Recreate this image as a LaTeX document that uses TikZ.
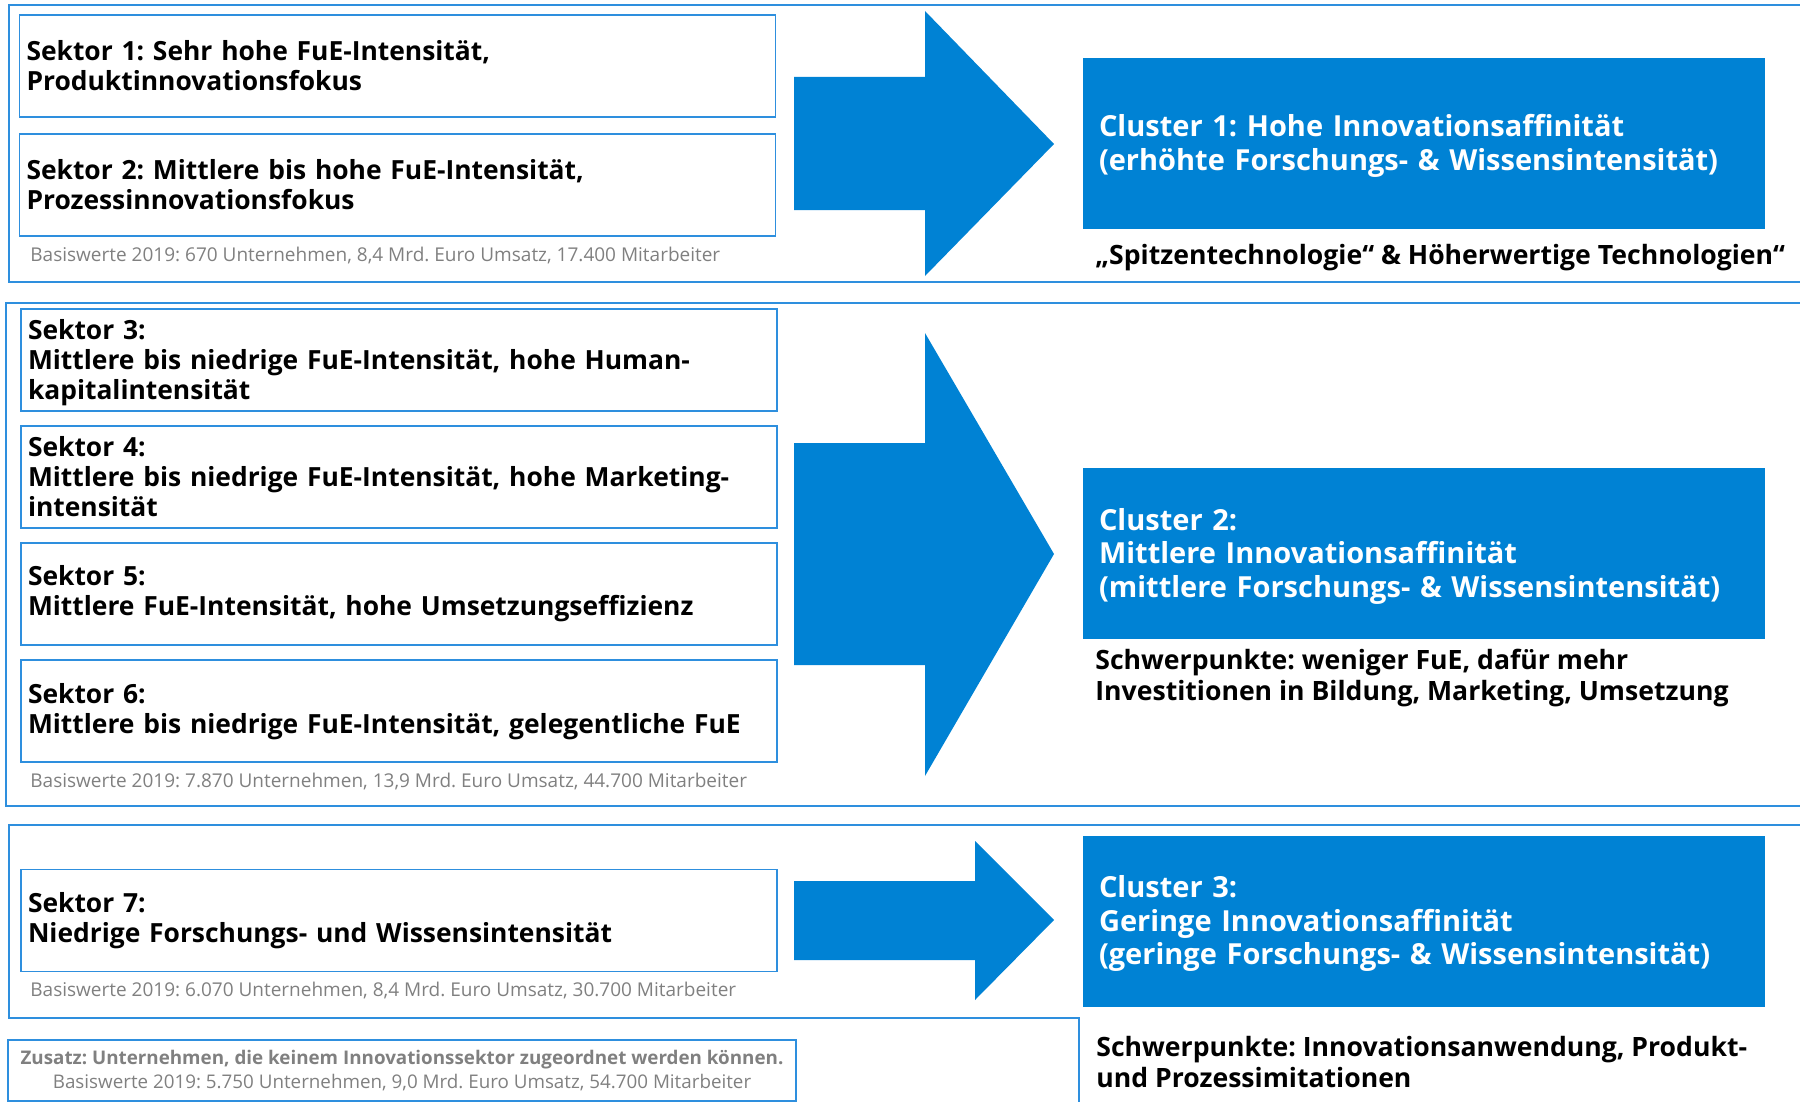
\documentclass[tikz,border=0pt]{standalone}
\usepackage{fontspec}
\setmainfont{Open Sans}
\definecolor{fillblue}{HTML}{0082D4}
\definecolor{frameblue}{HTML}{2E8FDE}
\definecolor{basegray}{HTML}{808080}
\frenchspacing
\begin{document}
\begin{tikzpicture}[x=0.5pt,y=-0.5pt,
  frameline/.style={draw=frameblue,line width=1pt},
  sbox/.style={draw=frameblue,line width=0.8pt,text width=371pt,inner xsep=3.5pt,inner ysep=0pt,
    minimum height=51pt,align=left,font=\bfseries\fontsize{13.2}{15}\selectfont},
  cbox/.style={fill=fillblue,minimum width=341pt,minimum height=85.5pt,inner sep=0pt},
  ctext/.style={text=white,text width=325pt,inner sep=0pt,align=left,
    font=\bfseries\fontsize{14.5}{16.75}\selectfont},
  basis/.style={anchor=west,inner sep=0pt,text=basegray,font=\fontsize{9.5}{10}\selectfont},
  note/.style={anchor=north west,inner sep=0pt,align=left,font=\bfseries\fontsize{13.3}{15.5}\selectfont},
  bigarrow/.style={fill=fillblue,draw=none}]
\useasboundingbox (0,0) rectangle (1800,1102);
% frames
\draw[frameline] (1800,5) -- (9,5) -- (9,282) -- (1800,282);
\draw[frameline] (1800,303) -- (6,303) -- (6,806) -- (1800,806);
\draw[frameline] (1800,825) -- (9,825) -- (9,1018) -- (1079,1018) -- (1079,1102);
% sector boxes
\node[sbox] (s1) at (397.5,66) {Sektor 1: Sehr hohe FuE-Intensität,\\Produktinnovationsfokus};
\node[sbox] (s2) at (397.5,185) {Sektor 2: Mittlere bis hohe FuE-Intensität,\\Prozessinnovationsfokus};
\node[basis] (b1) at (30,256) {Basiswerte 2019: 670 Unternehmen, 8,4 Mrd. Euro Umsatz, 17.400 Mitarbeiter};
\node[sbox] (s3) at (399,360) {\\[-2pt]Sektor 3:\\Mittlere bis niedrige FuE-Intensität, hohe Human-\\kapitalintensität};
\node[sbox] (s4) at (399,477) {Sektor 4:\\Mittlere bis niedrige FuE-Intensität, hohe Marketing-\\intensität};
\node[sbox] (s5) at (399,594) {Sektor 5:\\Mittlere FuE-Intensität, hohe Umsetzungseffizienz};
\node[sbox] (s6) at (399,711) {\\[-4pt]Sektor 6:\\Mittlere bis niedrige FuE-Intensität, gelegentliche FuE};
\node[basis] (b2) at (30,781) {Basiswerte 2019: 7.870 Unternehmen, 13,9 Mrd. Euro Umsatz, 44.700 Mitarbeiter};
\node[sbox] (s7) at (399,920.5) {Sektor 7:\\Niedrige Forschungs- und Wissensintensität};
\node[basis] (b3) at (30,990) {Basiswerte 2019: 6.070 Unternehmen, 8,4 Mrd. Euro Umsatz, 30.700 Mitarbeiter};
% zusatz
\node[draw=frameblue,line width=0.8pt,minimum width=394pt,minimum height=30.5pt,inner sep=0pt,
  align=center,text=basegray,font=\fontsize{9.4}{12}\selectfont] (z) at (402,1070.5)
  {\textbf{Zusatz: Unternehmen, die keinem Innovationssektor zugeordnet werden können.}\\
   Basiswerte 2019: 5.750 Unternehmen, 9,0 Mrd. Euro Umsatz, 54.700 Mitarbeiter};
% arrows
\fill[bigarrow] (794,77) -- (925,77) -- (925,11) -- (1054,144) -- (925,276) -- (925,210) -- (794,210) -- cycle;
\fill[bigarrow] (794,443) -- (925,443) -- (925,333) -- (1054,554) -- (925,776) -- (925,665) -- (794,665) -- cycle;
\fill[bigarrow] (794,881) -- (975,881) -- (975,841) -- (1054,920) -- (975,1000) -- (975,960) -- (794,960) -- cycle;
% clusters
\node[cbox] (c1) at (1424,143.5) {};
\node[ctext] (c1t) at (1424,146) {Cluster 1: Hohe Innovationsaffinität\\(erhöhte Forschungs- \& Wissensintensität)};
\node[cbox] (c2) at (1424,553.5) {};
\node[ctext] (c2t) at (1424,556) {Cluster 2:\\Mittlere Innovationsaffinität\\(mittlere Forschungs- \& Wissensintensität)};
\node[cbox] (c3) at (1424,921) {};
\node[ctext] (c3t) at (1424,923.5) {Cluster 3:\\Geringe Innovationsaffinität\\(geringe Forschungs- \& Wissensintensität)};
% notes
\node[note,anchor=west] (n1) at (1095,257.5) {„Spitzentechnologie“ \& Höherwertige Technologien“};
\node[note] (n2) at (1095,648.5) {Schwerpunkte: weniger FuE, dafür mehr\\Investitionen in Bildung, Marketing, Umsetzung};
\node[note] (n3) at (1096,1035.5) {Schwerpunkte: Innovationsanwendung, Produkt-\\und Prozessimitationen};
\end{tikzpicture}
\end{document}
